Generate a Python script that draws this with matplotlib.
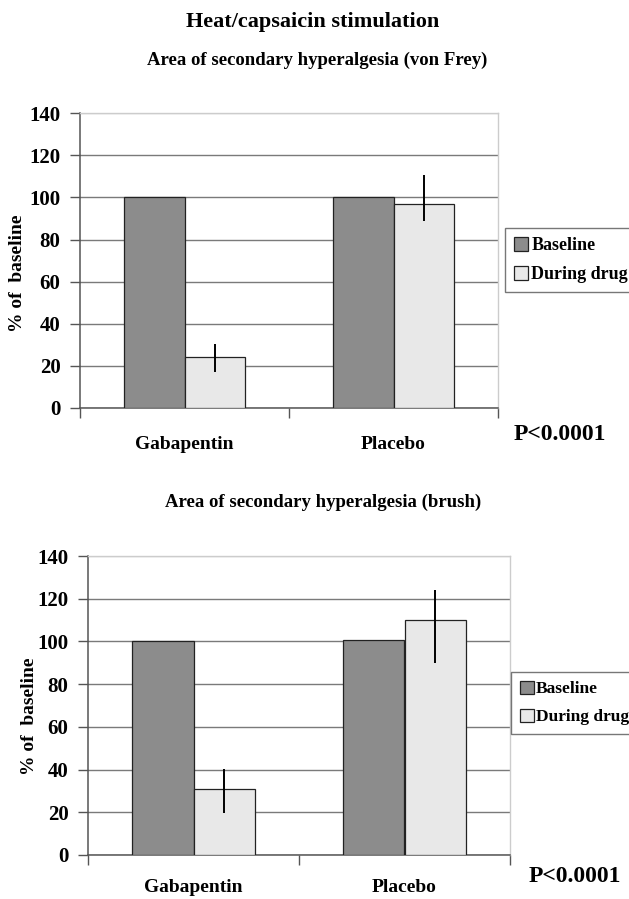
import matplotlib
matplotlib.use('Agg')
import matplotlib.pyplot as plt
import numpy as np

plt.rcParams['font.family'] = ['Liberation Serif', 'DejaVu Serif']
plt.rcParams['font.weight'] = 'bold'

# data
groups = ['Gabapentin', 'Placebo']
series = ['Baseline', 'During drug']
yticks = [0, 20, 40, 60, 80, 100, 120, 140]

# von Frey
vf_baseline = [100, 100]
vf_drug = [24, 97]
vf_err_low = [7, 8]
vf_err_high = [6.5, 13.5]

# brush
br_baseline = [100, 100.5]
br_drug = [31, 110]
br_err_low = [11.5, 20]
br_err_high = [9.5, 14]

base_color = '#8c8c8c'
drug_color = '#e8e8e8'

W, H = 629, 899
fig = plt.figure(figsize=(W / 100, H / 100), dpi=100)


def px_axes(left, right, top, bottom):
    return fig.add_axes([left / W, 1 - bottom / H, (right - left) / W, (bottom - top) / H])


def draw_panel(ax, baseline, drug, err_low, err_high, label_pad):
    x = np.arange(len(groups))
    w = 0.29
    b1 = ax.bar(x - w / 2, baseline, w, color=base_color, edgecolor='#222222',
                linewidth=0.9, label=series[0], zorder=3)
    b2 = ax.bar(x + w / 2, drug, w, color=drug_color, edgecolor='#222222',
                linewidth=0.9, label=series[1], zorder=3)
    ax.errorbar(x + w / 2, drug, yerr=[err_low, err_high], fmt='none',
                ecolor='black', elinewidth=1.4, capsize=0, zorder=4)
    ax.set_xlim(-0.5, 1.5)
    ax.set_ylim(0, 140)
    ax.set_yticks(yticks)
    ax.set_yticklabels([str(t) for t in yticks], fontsize=15, fontweight='bold')
    ax.yaxis.grid(True, color='#7a7a7a', linewidth=1.0, zorder=0)
    ax.get_ygridlines()[-1].set_color('#cccccc')
    ax.set_axisbelow(True)
    # category dividers as major ticks, names on minor ticks
    ax.set_xticks([-0.5, 0.5, 1.5])
    ax.set_xticklabels(['', '', ''])
    ax.set_xticks(x, minor=True)
    ax.set_xticklabels(groups, minor=True, fontsize=14, fontweight='bold')
    ax.tick_params(axis='x', which='minor', length=0, pad=label_pad)
    ax.tick_params(axis='x', which='major', length=7, color='#555555', width=1)
    ax.tick_params(axis='y', length=7, color='#555555', width=1, pad=7)
    for s in ['left', 'bottom']:
        ax.spines[s].set_color('#555555')
        ax.spines[s].set_linewidth(1.1)
    for s in ['top', 'right']:
        ax.spines[s].set_color('#cccccc')
        ax.spines[s].set_linewidth(1.0)
    return b1, b2


ax1 = px_axes(80, 498, 113.3, 408)
draw_panel(ax1, vf_baseline, vf_drug, vf_err_low, vf_err_high, label_pad=20)
ax2 = px_axes(88, 510, 556, 855)
draw_panel(ax2, br_baseline, br_drug, br_err_low, br_err_high, label_pad=17)

for ax, lx, ly, fs in [(ax1, 505, 228, 13), (ax2, 511, 672, 12.5)]:
    leg = ax.legend(loc='upper left', bbox_to_anchor=(lx / W, 1 - ly / H),
                    bbox_transform=fig.transFigure, frameon=True, fancybox=False,
                    prop={'family': 'Liberation Serif', 'weight': 'bold', 'size': fs},
                    handlelength=0.8, handleheight=0.8, handletextpad=0.15,
                    borderpad=0.5, labelspacing=0.65, borderaxespad=0)
    leg.get_frame().set_edgecolor('#555555')
    leg.get_frame().set_linewidth(1.0)

fig.text(313 / W, 1 - 22 / H, 'Heat/capsaicin stimulation', ha='center', va='center',
         fontsize=16, fontweight='bold')
fig.text(317 / W, 1 - 60 / H, 'Area of secondary hyperalgesia (von Frey)', ha='center',
         va='center', fontsize=13.5, fontweight='bold')
fig.text(323 / W, 1 - 502 / H, 'Area of secondary hyperalgesia (brush)', ha='center',
         va='center', fontsize=13.5, fontweight='bold')

fig.text(18 / W, 1 - 273 / H, '% of  baseline', rotation=90, ha='center', va='center',
         fontsize=14, fontweight='bold')
fig.text(29 / W, 1 - 716 / H, '% of  baseline', rotation=90, ha='center', va='center',
         fontsize=14, fontweight='bold')

fig.text(514 / W, 1 - 435 / H, 'P<0.0001', ha='left', va='center', fontsize=17,
         fontweight='bold')
fig.text(529 / W, 1 - 877 / H, 'P<0.0001', ha='left', va='center', fontsize=17,
         fontweight='bold')

fig.savefig('out.png', dpi=100)
